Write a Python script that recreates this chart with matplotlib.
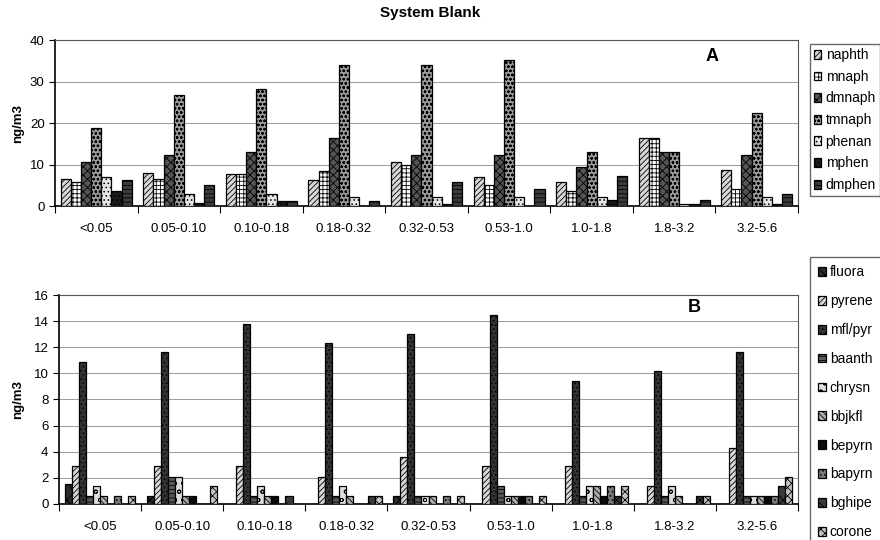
import numpy as np
import matplotlib
matplotlib.use("Agg")
import matplotlib.pyplot as plt

plt.rcParams['font.family'] = ['Liberation Sans', 'DejaVu Sans']
plt.rcParams['hatch.linewidth'] = 0.6

# size ranges (um)
categories = ['<0.05', '0.05-0.10', '0.10-0.18', '0.18-0.32', '0.32-0.53',
              '0.53-1.0', '1.0-1.8', '1.8-3.2', '3.2-5.6']

# panel A, ng/m3
naphth = [6.5, 7.9, 7.8, 6.3, 10.7, 7.1, 5.7, 16.5, 8.6]
mnaph = [5.9, 6.4, 7.8, 8.5, 10.0, 5.0, 3.5, 16.5, 4.2]
dmnaph = [10.7, 12.2, 12.9, 16.4, 12.2, 12.2, 9.3, 12.9, 12.2]
tmnaph = [18.8, 26.8, 28.2, 33.9, 33.9, 35.3, 12.9, 12.9, 22.4]
phenan = [7.1, 2.8, 2.8, 2.1, 2.1, 2.1, 2.1, 0.6, 2.1]
mphen = [3.5, 0.7, 1.3, 0.0, 0.5, 0.0, 1.4, 0.6, 0.6]
dmphen = [6.3, 5.0, 1.3, 1.3, 5.7, 4.2, 7.2, 1.4, 2.8]

# panel B, ng/m3
fluora = [1.5, 0.64, 0, 0, 0.64, 0, 0, 0, 0]
pyrene = [2.9, 2.9, 2.9, 2.1, 3.6, 2.9, 2.9, 1.4, 4.3]
mflpyr = [10.9, 11.6, 13.8, 12.3, 13.0, 14.5, 9.4, 10.15, 11.6]
baanth = [0.64, 2.1, 0.64, 0.64, 0.64, 1.4, 0.64, 0.64, 0.64]
chrysn = [1.4, 2.1, 1.4, 1.4, 0.64, 0.64, 1.4, 1.4, 0.64]
bbjkfl = [0.64, 0.64, 0.64, 0.64, 0.64, 0.64, 1.4, 0.64, 0.64]
bepyrn = [0, 0.64, 0.64, 0, 0, 0.64, 0.64, 0, 0.64]
bapyrn = [0.64, 0, 0, 0, 0.64, 0.64, 1.4, 0, 0.64]
bghipe = [0, 0, 0.64, 0.64, 0, 0, 0.64, 0.64, 1.4]
corone = [0.64, 1.4, 0, 0.64, 0.64, 0.64, 1.4, 0.64, 2.1]

series_a = [('naphth', naphth, '#d8d8d8', '//////'),
            ('mnaph', mnaph, '#ffffff', '++++'),
            ('dmnaph', dmnaph, '#555555', 'xxxx'),
            ('tmnaph', tmnaph, '#9a9a9a', 'oooo'),
            ('phenan', phenan, '#e6e6e6', '....'),
            ('mphen', mphen, '#1a1a1a', '....'),
            ('dmphen', dmphen, '#3c3c3c', '----')]

series_b = [('fluora', fluora, '#2a2a2a', 'xx'),
            ('pyrene', pyrene, '#d8d8d8', '//////'),
            ('mfl/pyr', mflpyr, '#333333', '....'),
            ('baanth', baanth, '#5a5a5a', '----'),
            ('chrysn', chrysn, '#dddddd', 'oo'),
            ('bbjkfl', bbjkfl, '#b0b0b0', '\\\\\\\\\\\\'),
            ('bepyrn', bepyrn, '#0a0a0a', ''),
            ('bapyrn', bapyrn, '#7a7a7a', '....'),
            ('bghipe', bghipe, '#3a3a3a', 'xx'),
            ('corone', corone, '#c4c4c4', 'xxxx')]

fig = plt.figure(figsize=(8.8, 5.4), dpi=100)
fig.text(0.489, 0.975, 'System Blank', ha='center', va='center',
         fontsize=11, fontweight='bold')

x = np.arange(len(categories))


def draw(ax, series, ymax, ystep, letter, lx, ly):
    n = len(series)
    w = 0.86 / n
    handles = []
    for i, (name, vals, fc, h) in enumerate(series):
        b = ax.bar(x - 0.43 + w * (i + 0.5), vals, w, color=fc, hatch=h,
                   edgecolor='black', linewidth=0.9, label=name, zorder=3)
        handles.append(b)
    ax.set_xlim(-0.5, len(categories) - 0.5)
    ax.set_ylim(0, ymax)
    ax.set_yticks(np.arange(0, ymax + 0.1, ystep))
    ax.set_xticks(np.arange(-0.5, len(categories), 1.0), minor=False)
    ax.set_xticklabels([])
    ax.set_xticks(x, minor=True)
    ax.set_xticklabels(categories, minor=True, fontsize=9.5)
    ax.tick_params(axis='x', which='minor', length=0, pad=12)
    ax.tick_params(axis='x', which='major', length=5, direction='out')
    ax.tick_params(axis='y', length=4, labelsize=9.5)
    ax.grid(axis='y', color='#999999', linewidth=0.7, zorder=0)
    for s in ['top', 'right']:
        ax.spines[s].set_color('#555555')
    ax.spines['left'].set_linewidth(1.2)
    ax.spines['bottom'].set_linewidth(1.2)
    ax.set_ylabel('ng/m3', fontsize=9.5, fontweight='bold')
    ax.text(lx, ly, letter, transform=ax.transAxes, fontsize=13,
            fontweight='bold', ha='center', va='center')
    return handles


ax1 = fig.add_axes([0.0625, 0.6185, 0.8443, 0.3074])
h1 = draw(ax1, series_a, 40, 10, 'A', 0.885, 0.9)
ax1.yaxis.set_label_coords(-0.042, 0.5)

ax2 = fig.add_axes([0.067, 0.0667, 0.840, 0.387])
h2 = draw(ax2, series_b, 16, 2, 'B', 0.86, 0.94)
ax2.yaxis.set_label_coords(-0.047, 0.5)

leg_kw = dict(loc='upper left', fontsize=10, frameon=True, fancybox=False,
              edgecolor='#444444', handlelength=0.55, handleheight=0.6,
              handletextpad=0.3, borderaxespad=0)
leg1 = fig.legend(handles=h1, bbox_to_anchor=(0.920, 0.9185),
                  labelspacing=0.55, borderpad=0.3, **leg_kw)
leg2 = fig.legend(handles=h2, bbox_to_anchor=(0.920, 0.524),
                  labelspacing=1.07, borderpad=0.6, **leg_kw)

fig.savefig('out.png', dpi=100)
